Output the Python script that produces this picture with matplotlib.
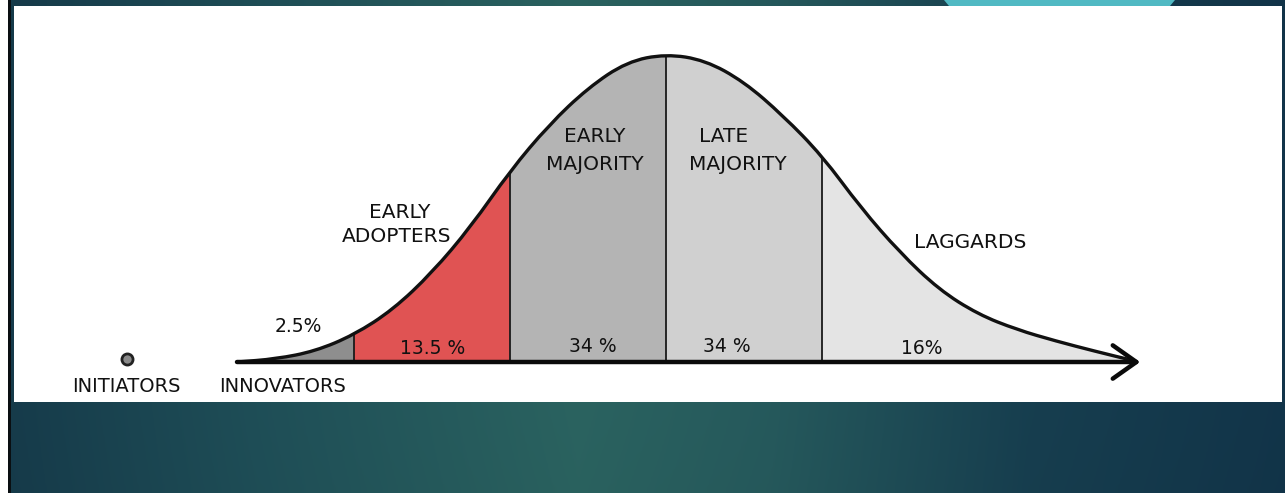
import numpy as np
import matplotlib
matplotlib.use("Agg")
import matplotlib.pyplot as plt
from matplotlib.patches import Polygon, FancyArrowPatch, Rectangle, PathPatch
from matplotlib.path import Path
from matplotlib.colors import to_rgb

# ---------------- data ----------------
segment_names = ["INNOVATORS", "EARLY ADOPTERS", "EARLY MAJORITY", "LATE MAJORITY", "LAGGARDS"]
segment_shares = ["2.5%", "13.5 %", "34 %", "34 %", "16%"]
# segment boundaries in standard deviations from the mean
segment_bounds = [-2.75, -2.0, -1.0, 0.0, 1.0, 3.0]
segment_colors = ["#8e8e8e", "#e05353", "#b4b4b4", "#d0d0d0", "#e4e4e4"]

# bell curve height (relative to peak)
curve_z = [-2.75, -2.5, -2.25, -2.0, -1.75, -1.5, -1.25, -1.0, -0.75, -0.5, -0.25,
           0.0, 0.25, 0.5, 0.75, 1.0, 1.25, 1.5, 1.75, 2.0, 2.25, 2.5, 2.75, 3.0]
curve_h = [0.0, 0.010, 0.035, 0.088, 0.17, 0.29, 0.44, 0.62, 0.77, 0.89, 0.975,
           1.0, 0.98, 0.91, 0.80, 0.67, 0.50, 0.355, 0.235, 0.155, 0.105, 0.068, 0.035, 0.004]

extra_label = "INITIATORS"
arrow_end = 3.04

# ---------------- layout (pixel geometry of the drawing) ----------------
W, H = 1285, 493
X0, SX = 666.0, 156.0      # mean position and px per std dev
Y0, SY = 362.0, 308.0      # baseline and px for peak height
PANEL = (14, 6, 1282, 402)  # left, top, right, bottom (px)


def px(xp, yp):
    return (xp - X0) / SX, (Y0 - yp) / SY


fig = plt.figure(figsize=(W / 100, H / 100), dpi=100)

# ---------------- background ----------------
bg = fig.add_axes([0, 0, 1, 1])
bg.set_xlim(0, W)
bg.set_ylim(H, 0)
bg.axis("off")
stops_x = [0.0, 0.2, 0.45, 0.6, 0.8, 1.0]
stops_c = ["#163b4b", "#1f4f58", "#2b6461", "#265a5d", "#173f50", "#12354a"]
xs = np.linspace(0, 1, 600)
rgb = np.array([to_rgb(c) for c in stops_c])
grad = np.stack([np.interp(xs, stops_x, rgb[:, k]) for k in range(3)], axis=-1)
ys = np.linspace(0, 1, 60)
shade = 1.0 - 0.10 * (ys - 0.5) ** 2
img = grad[None, :, :] * shade[:, None, None]
bg.imshow(np.clip(img, 0, 1), extent=[0, W, H, 0], aspect="auto", zorder=0)
bg.add_patch(Rectangle((0, 0), 8, H, facecolor="white", edgecolor="none", zorder=1))
bg.add_patch(Rectangle((8, 0), 3, H, facecolor="#0a0f12", edgecolor="none", zorder=1))
bg.add_patch(Polygon([(944, 0), (1175, 0), (1170, 6), (949, 6)], closed=True,
                     facecolor="#50b9c3", edgecolor="none", zorder=1))

# ---------------- main panel ----------------
l, t, r, b = PANEL
ax = fig.add_axes([l / W, (H - b) / H, (r - l) / W, (b - t) / H])
ax.set_facecolor("white")
xl0, _ = px(l, 0)
xl1, _ = px(r, 0)
_, yb = px(0, b)
_, yt = px(0, t)
ax.set_xlim(xl0, xl1)
ax.set_ylim(yb, yt)
for s in ax.spines.values():
    s.set_visible(False)
ax.set_xticks([])
ax.set_yticks([])

# smooth path through the read points (quadratic B-spline style)
pts = list(zip(curve_z, curve_h))
verts = [pts[0], ((pts[0][0] + pts[1][0]) / 2, (pts[0][1] + pts[1][1]) / 2)]
codes = [Path.MOVETO, Path.LINETO]
for i in range(1, len(pts) - 1):
    mid = ((pts[i][0] + pts[i + 1][0]) / 2, (pts[i][1] + pts[i + 1][1]) / 2)
    verts += [pts[i], mid]
    codes += [Path.CURVE3, Path.CURVE3]
verts.append(pts[-1])
codes.append(Path.LINETO)
curve_path = Path(verts, codes)
closed_path = Path(verts + [(curve_z[-1], 0), (curve_z[0], 0), verts[0]],
                   codes + [Path.LINETO, Path.LINETO, Path.CLOSEPOLY])

clip = PathPatch(closed_path, facecolor="none", edgecolor="none", transform=ax.transData)
ax.add_patch(clip)
for i in range(5):
    lo, hi = segment_bounds[i], segment_bounds[i + 1]
    rect = Rectangle((lo, 0), hi - lo, 1.2, facecolor=segment_colors[i],
                     edgecolor="none", zorder=1)
    ax.add_patch(rect)
    rect.set_clip_path(clip)
for zb in segment_bounds[1:-1]:
    ln, = ax.plot([zb, zb], [0, 1.2], color="#1a1a1a", lw=1.3, zorder=2)
    ln.set_clip_path(clip)

ax.add_patch(PathPatch(curve_path, facecolor="none", edgecolor="#111111", lw=2.4,
                       capstyle="round", zorder=3))

arr = FancyArrowPatch((segment_bounds[0], 0), (arrow_end, 0),
                      arrowstyle="->,head_length=0.85,head_width=0.6",
                      mutation_scale=20, color="#0a0a0a", lw=3.2,
                      shrinkA=0, shrinkB=0,
                      capstyle="round", joinstyle="round", zorder=4)
ax.add_patch(arr)

txt = dict(family="DejaVu Sans", color="#111111", ha="center", va="center", zorder=5)
name_pos = {
    "EARLY MAJORITY": [(595, 137), (595, 165)],
    "LATE MAJORITY": [(724, 137), (738, 164)],
    "EARLY ADOPTERS": [(400, 212), (397, 236)],
    "LAGGARDS": [(970, 242)],
}
for name, poses in name_pos.items():
    words = name.split(" ")
    if len(poses) == 1:
        words = [name]
    for w, p in zip(words, poses):
        ax.text(*px(*p), w, fontsize=14.5, **txt)

share_pos = [(298, 327), (433, 349), (593, 347), (727, 347), (922, 349)]
for s, p in zip(segment_shares, share_pos):
    ax.text(*px(*p), s, fontsize=13.5, **txt)

ax.text(*px(283, 387), segment_names[0], fontsize=14, **txt)
ax.text(*px(126, 387), extra_label, fontsize=14, **txt)
ax.plot(*px(127, 359), marker="o", markersize=8, markerfacecolor="#8a8a8a",
        markeredgecolor="#222222", markeredgewidth=2, zorder=5)

fig.savefig("out.png", dpi=100)
